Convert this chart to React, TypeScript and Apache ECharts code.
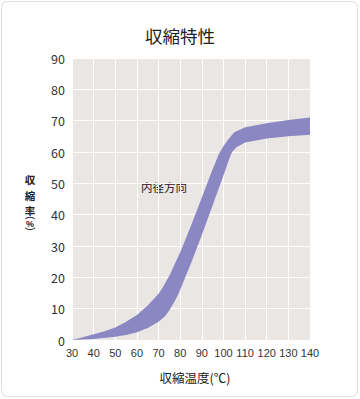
import React, { useEffect, useRef } from "react";
import * as echarts from "echarts";

const xTicks = [30, 40, 50, 60, 70, 80, 90, 100, 110, 120, 130, 140];
const upperTemp = [30, 35, 40, 45, 50, 55, 60, 65, 70, 72, 75, 80, 85, 90, 95, 98, 100, 102, 105, 110, 120, 130, 140];
const upperVal = [0, 0.9, 1.8, 2.8, 4, 5.8, 8, 11, 14.8, 16.8, 20.5, 28, 36.5, 45.5, 54.5, 59.5, 61.8, 63.8, 66.3, 67.9, 69.2, 70.2, 71];
const lowerTemp = [30, 40, 50, 55, 60, 65, 70, 73, 75, 78, 80, 85, 90, 95, 100, 102, 103, 104, 106, 110, 120, 130, 140];
const lowerVal = [0, 0.3, 1, 1.6, 2.5, 3.8, 5.8, 7.6, 9.5, 13, 16, 24.5, 33.5, 43, 52.5, 56.5, 58.5, 60, 61.5, 63, 64.3, 65, 65.5];

const title = "収縮特性";
const xName = "収縮温度(℃)";
const yName = "収\n縮\n率";
const seriesLabel = "内径方向";

const FONT = "'Noto Sans CJK JP', 'Noto Sans', sans-serif";
const NUM = "'Liberation Sans', Arial, sans-serif";

export default function App() {
  const ref = useRef<HTMLDivElement>(null);
  useEffect(() => {
    if (!ref.current) return;
    const chart = echarts.init(ref.current, null, { renderer: "svg" });
    chart.setOption({
      animation: false,
      textStyle: { fontFamily: FONT },
      grid: {
        left: 72,
        top: 58,
        width: 238,
        height: 282,
        show: true,
        backgroundColor: "#e9e6e3",
        borderWidth: 0,
      },
      xAxis: {
        type: "value",
        min: 30,
        max: 140,
        interval: 10,
        axisLine: { show: false },
        axisTick: { show: false },
        splitLine: { show: true, lineStyle: { color: "#ffffff", width: 1 } },
        axisLabel: {
          color: "#333",
          fontSize: 11,
          margin: 7,
          fontFamily: NUM,
          formatter: (v: number) => (xTicks.includes(v) ? String(v) : ""),
        },
      },
      yAxis: {
        type: "value",
        min: 0,
        max: 90,
        interval: 10,
        axisLine: { show: false },
        axisTick: { show: false },
        splitLine: { show: true, lineStyle: { color: "#ffffff", width: 1 } },
        axisLabel: { color: "#333", fontSize: 12.5, margin: 7, fontFamily: FONT },
      },
      graphic: [
        {
          type: "rect",
          shape: { x: 1.5, y: 1.5, width: 356, height: 395, r: 6 },
          style: { fill: "none", stroke: "#dddddd", lineWidth: 1 },
          silent: true,
        },
        {
          type: "text",
          x: 180,
          y: 35,
          style: { text: title, fontSize: 17.5, fill: "#222", align: "center", verticalAlign: "middle", fontFamily: FONT },
        },
        {
          type: "text",
          x: 195,
          y: 377,
          style: { text: xName, fontSize: 12.5, fill: "#222", align: "center", verticalAlign: "middle", fontFamily: FONT },
        },
        {
          type: "text",
          x: 30,
          y: 172,
          style: {
            text: yName,
            fontSize: 10.5,
            lineHeight: 15.5,
            fontWeight: "bold",
            fill: "#222",
            align: "center",
            verticalAlign: "top",
            fontFamily: FONT,
          },
        },
        {
          type: "text",
          x: 30,
          y: 218,
          rotation: -Math.PI / 2,
          style: { text: "(", fontSize: 10, fill: "#222", align: "center", verticalAlign: "middle", fontFamily: NUM },
        },
        {
          type: "text",
          x: 30,
          y: 223.5,
          style: { text: "%", fontSize: 9, fontWeight: "bold", fill: "#222", align: "center", verticalAlign: "middle", fontFamily: NUM },
        },
        {
          type: "text",
          x: 30,
          y: 229,
          rotation: -Math.PI / 2,
          style: { text: ")", fontSize: 10, fill: "#222", align: "center", verticalAlign: "middle", fontFamily: NUM },
        },
        {
          type: "text",
          x: 164,
          y: 187,
          style: { text: seriesLabel, fontSize: 11.5, fill: "#222", align: "center", verticalAlign: "middle", fontFamily: FONT },
        },
      ],
      series: [
        {
          type: "custom",
          coordinateSystem: "cartesian2d",
          data: [[30, 0]],
          renderItem: (_params: any, api: any) => {
            const pts: number[][] = [];
            for (let i = 0; i < upperTemp.length; i++) pts.push(api.coord([upperTemp[i], upperVal[i]]));
            for (let i = lowerTemp.length - 1; i >= 0; i--) pts.push(api.coord([lowerTemp[i], lowerVal[i]]));
            return {
              type: "polygon",
              shape: { points: pts },
              style: { fill: "#8b87c3" },
            };
          },
        },
      ],
    });
    return () => chart.dispose();
  }, []);
  return <div ref={ref} style={{ position: "absolute", left: 0, top: 0, width: 360, height: 399 }} />;
}
